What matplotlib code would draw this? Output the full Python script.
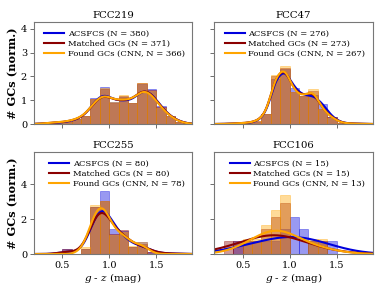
import numpy as np
import matplotlib
matplotlib.use('Agg')
import matplotlib.pyplot as plt

plt.rcParams['font.family'] = 'DejaVu Serif'
plt.rcParams['mathtext.fontset'] = 'dejavuserif'

# bin edges of the g-z histograms (0.3 ... 1.8)
edges = np.round(np.arange(0.3, 1.85, 0.1), 2)

names = ['FCC219', 'FCC47', 'FCC255', 'FCC106']
n_acs = [380, 276, 80, 15]
n_match = [371, 273, 80, 15]
n_found = [366, 267, 78, 13]

# normalised histogram heights, one value per bin
acs_219 = [0.04, 0.06, 0.08, 0.2, 0.33, 1.1, 1.57, 0.92, 1.15, 0.9, 1.7, 1.48, 0.75, 0.32, 0.1]
match_219 = [0.05, 0.07, 0.1, 0.2, 0.33, 1.05, 1.48, 0.9, 1.17, 0.9, 1.72, 1.42, 0.7, 0.33, 0.08]
found_219 = [0.05, 0.08, 0.1, 0.22, 0.35, 1.07, 1.5, 0.92, 1.2, 0.9, 1.72, 1.4, 0.68, 0.32, 0.07]

acs_47 = [0.01, 0.02, 0.04, 0.1, 0.4, 1.9, 2.3, 1.5, 1.17, 1.2, 0.86, 0.3, 0.06, 0.02, 0.01]
match_47 = [0.01, 0.03, 0.05, 0.12, 0.42, 2.0, 2.35, 1.35, 1.17, 1.38, 0.62, 0.28, 0.05, 0.02, 0.01]
found_47 = [0.01, 0.03, 0.05, 0.12, 0.42, 2.05, 2.45, 1.35, 1.17, 1.47, 0.62, 0.27, 0.05, 0.02, 0.01]

acs_255 = [0, 0, 0.27, 0, 0.27, 2.7, 3.62, 1.43, 1.3, 0.41, 0.68, 0.14, 0.05, 0.03, 0.02]
match_255 = [0, 0, 0.27, 0, 0.27, 2.7, 3.05, 1.14, 1.36, 0.41, 0.6, 0.14, 0.05, 0.03, 0.02]
found_255 = [0, 0, 0, 0, 0.42, 2.8, 3.05, 1.11, 1.25, 0.45, 0.7, 0, 0, 0, 0]

acs_106 = [0, 0.72, 0.72, 0.72, 0.72, 0.72, 1.43, 2.15, 1.43, 0.72, 0.72, 0.72, 0, 0, 0]
match_106 = [0.72, 0.72, 0.72, 0.72, 1.43, 2.15, 2.91, 0, 0, 0.72, 0.72, 0, 0, 0, 0]
found_106 = [0, 0, 0.84, 0.84, 1.68, 2.53, 3.37, 0, 0, 0.84, 0.84, 0, 0, 0, 0]

acs = [acs_219, acs_47, acs_255, acs_106]
match = [match_219, match_47, match_255, match_106]
found = [found_219, found_47, found_255, found_106]

# kde bandwidth multiplier per panel
bw_adjust = [1.0, 0.95, 1.2, 1.8]

colors = ['#0000dd', '#8b0000', '#ffa500']


def kde(x, heights, n, adj):
    # gaussian KDE of the binned sample, Scott bandwidth
    c = 0.5 * (edges[:-1] + edges[1:])
    w = np.asarray(heights, float)
    w = w / w.sum()
    mu = np.sum(w * c)
    sd = np.sqrt(np.sum(w * (c - mu) ** 2))
    bw = adj * sd * n ** (-0.2)
    g = np.exp(-0.5 * ((x[None, :] - c[:, None]) / bw) ** 2)
    return np.sum(w[:, None] * g, axis=0) / (bw * np.sqrt(2 * np.pi))


fig, axes = plt.subplots(2, 2, figsize=(3.82, 2.94), dpi=100, sharex=True)
fig.subplots_adjust(left=0.089, right=0.976, top=0.925, bottom=0.136,
                    wspace=0.139, hspace=0.275)

xx = np.linspace(0.2, 1.9, 400)
for i, ax in enumerate(axes.flat):
    sets = [(acs[i], n_acs[i], 'ACSFCS (N = %d)' % n_acs[i]),
            (match[i], n_match[i], 'Matched GCs (N = %d)' % n_match[i]),
            (found[i], n_found[i], 'Found GCs (CNN, N = %d)' % n_found[i])]
    for (h, n, lab), col in zip(sets, colors):
        ax.bar(edges[:-1], h, width=0.1, align='edge', color=col, alpha=0.4,
               edgecolor=col, linewidth=0.6)
    for (h, n, lab), col in zip(sets, colors):
        ax.plot(xx, kde(xx, h, n, bw_adjust[i]), color=col, lw=1.5, label=lab)
    ax.set_title(names[i], fontsize=7.3, pad=3)
    ax.legend(loc='upper right', frameon=False, fontsize=6, labelspacing=0.25,
              handlelength=2.4, handletextpad=0.45)
    ax.set_xlim(0.2, 1.885)
    ax.set_xticks([0.5, 1.0, 1.5])
    for s in ax.spines.values():
        s.set_color('#777777')
    ax.tick_params(labelsize=7, length=3, width=0.6, color='#555555', pad=2)
    if i < 2:
        ax.set_ylim(0, 4.28)
        ax.set_yticks([0, 1, 2, 3, 4])
    else:
        ax.set_ylim(0, 5.85)
        ax.set_yticks([0, 2, 4])
        ax.set_xlabel(r'$g$ - $z$ (mag)', fontsize=7.5, labelpad=1)
    if i % 2 == 0:
        ax.set_ylabel('# GCs (norm.)', fontsize=8.2, fontweight='bold', labelpad=2)
    else:
        ax.set_yticklabels([])

fig.savefig('out.png', dpi=100)
